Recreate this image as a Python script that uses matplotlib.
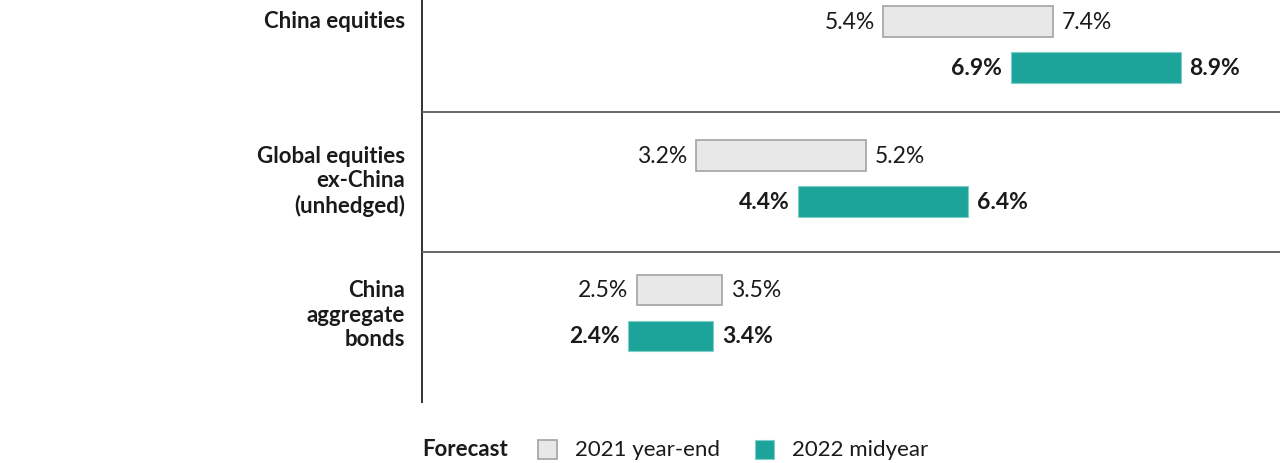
import matplotlib
matplotlib.use("Agg")
import matplotlib.pyplot as plt
import matplotlib.transforms as mtransforms
from matplotlib.patches import Rectangle

# Forecast ranges (annualised return, %)
categories = ["China equities", "Global equities\nex-China\n(unhedged)", "China\naggregate\nbonds"]
low_2021 = [5.4, 3.2, 2.5]
high_2021 = [7.4, 5.2, 3.5]
low_2022 = [6.9, 4.4, 2.4]
high_2022 = [8.9, 6.4, 3.4]
series_names = ["2021 year-end", "2022 midyear"]
legend_title = "Forecast"

FONT = "Lato"
TEXT = "#1a1a1a"
GRAY_FILL = "#e8e8e8"
GRAY_EDGE = "#a3a3a3"
TEAL = "#1ca39a"
FS_CAT = 16
FS_VAL = 16.5
FS_LEG = 16

W, H = 1280, 464
fig = plt.figure(figsize=(W / 100, H / 100), dpi=100)
ax = fig.add_axes([422 / W, (H - 403) / H, (W - 422) / W, 403 / H])

ax.set_xlim(-0.024, 10.07)
ax.set_ylim(2.662, -0.335)
ax.axis("off")

offset = 0.171
bar_h = 0.23
for i in range(len(categories)):
    y1 = i - offset
    y2 = i + offset
    ax.barh(y1, high_2021[i] - low_2021[i], left=low_2021[i], height=bar_h,
            color=GRAY_FILL, edgecolor=GRAY_EDGE, linewidth=1.2)
    ax.barh(y2, high_2022[i] - low_2022[i], left=low_2022[i], height=bar_h,
            color=TEAL, edgecolor="#7fcfc9", linewidth=0.8)
    ax.annotate(f"{low_2021[i]:.1f}%", (low_2021[i], y1), xytext=(-6, 0),
                textcoords="offset points", ha="right", va="center",
                fontsize=FS_VAL, family=FONT, color=TEXT)
    ax.annotate(f"{high_2021[i]:.1f}%", (high_2021[i], y1), xytext=(6.5, 0),
                textcoords="offset points", ha="left", va="center",
                fontsize=FS_VAL, family=FONT, color=TEXT)
    ax.annotate(f"{low_2022[i]:.1f}%", (low_2022[i], y2), xytext=(-6, 0),
                textcoords="offset points", ha="right", va="center",
                fontsize=FS_VAL, family=FONT, color=TEXT, fontweight="bold")
    ax.annotate(f"{high_2022[i]:.1f}%", (high_2022[i], y2), xytext=(6.5, 0),
                textcoords="offset points", ha="left", va="center",
                fontsize=FS_VAL, family=FONT, color=TEXT, fontweight="bold")

# Category labels to the left of the axis line
trans = mtransforms.blended_transform_factory(ax.transAxes, ax.transData)
for i, cat in enumerate(categories):
    ax.text(-0.02, i - 0.25, cat, transform=trans, ha="right", va="top",
            fontsize=FS_CAT, family=FONT, fontweight="bold", color=TEXT,
            linespacing=1.2)

# Axis line and group separators
ax.plot([0, 0], [0, 1], transform=ax.transAxes, color="#333333", lw=1.4,
        clip_on=False)
for ysep in [0.506, 1.546]:
    ax.axhline(ysep, color="#666666", lw=1.4)

# Legend
ly = (H - 450) / H
fig.text(422 / W, ly, legend_title, ha="left", va="center", fontsize=FS_LEG,
         family=FONT, fontweight="bold", color=TEXT)
sq = 19
fig.add_artist(Rectangle((538 / W, (H - 450 - sq / 2) / H), sq / W, sq / H,
                         transform=fig.transFigure, facecolor=GRAY_FILL,
                         edgecolor=GRAY_EDGE, lw=1.2))
fig.text(575 / W, ly, series_names[0], ha="left", va="center", fontsize=FS_LEG,
         family=FONT, color=TEXT)
fig.add_artist(Rectangle((755 / W, (H - 450 - sq / 2) / H), sq / W, sq / H,
                         transform=fig.transFigure, facecolor=TEAL,
                         edgecolor="#7fcfc9", lw=0.8))
fig.text(792 / W, ly, series_names[1], ha="left", va="center", fontsize=FS_LEG,
         family=FONT, color=TEXT)

fig.savefig("out.png", dpi=100, facecolor="white")
